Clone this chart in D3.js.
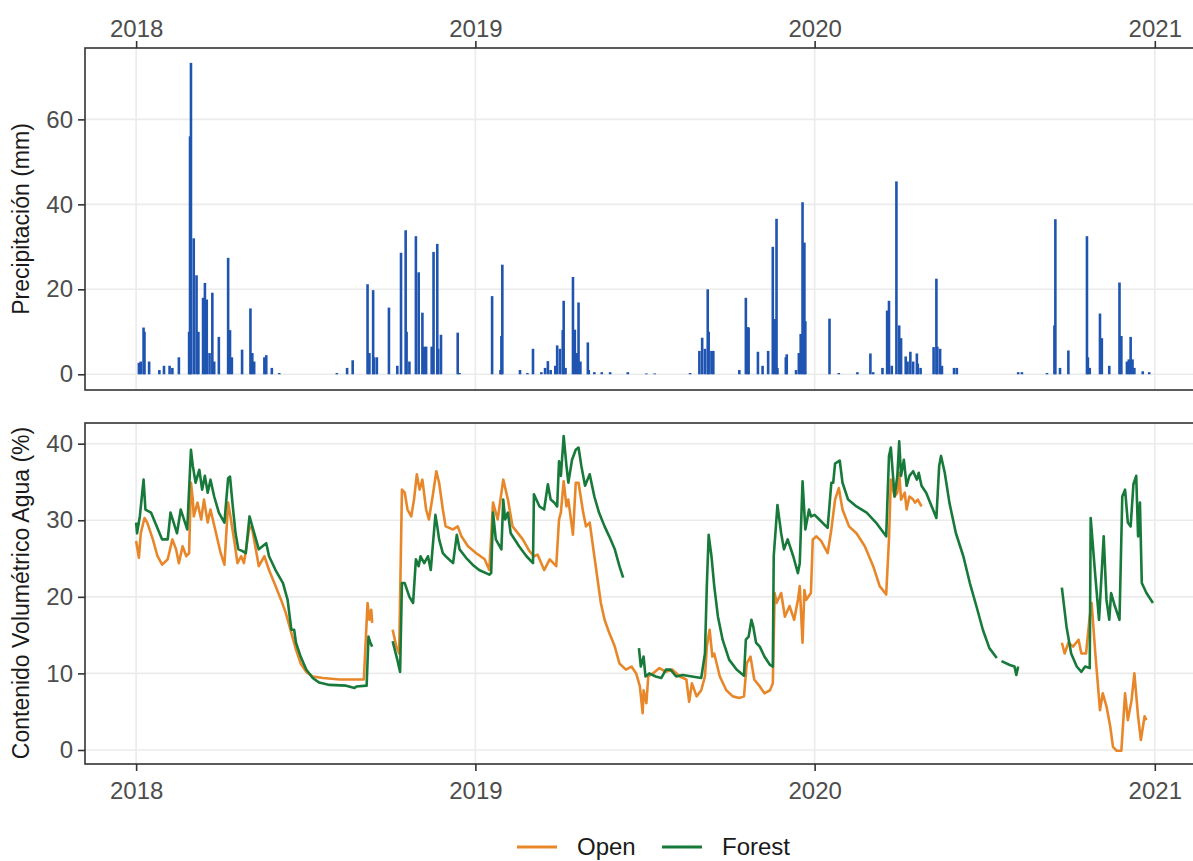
<!DOCTYPE html>
<html>
  <head>
    <meta charset="utf-8">
    <title>Precipitación y contenido de agua</title>
    <script src="https://cdn.jsdelivr.net/npm/d3@7"></script>
	<style>
		body { margin:0; background:#fff; }
		svg { font-family: "Liberation Sans", Arial, sans-serif; display:block; }
		.tick text { fill:#4d4d4d; font-size:24px; }
		.tick line { stroke:#333; stroke-width:1.6; }
		.titulo { fill:#1a1a1a; font-size:23px; }
	</style>
  </head>
  <body>
    <script>
	// dias desde 2018-01-01
	var lluviaDia = [3,5,8,9,14,25,30,36,39,46,57,58,59,62,65,67,72,74,76,79,82,84,89,99,101,103,114,123,125,127,138,140,146,154,
		216,227,233,249,251,255,256,259,272,281,285,290,291,294,301,304,308,310,312,318,320,324,325,328,346,348,
		383,392,393,394,413,421,427,436,440,443,446,451,453,456,459,460,462,470,472,474,476,478,486,487,493,501,510,529,549,558,
		596,606,609,612,615,616,619,621,649,656,658,659,669,674,680,685,687,689,690,699,700,710,713,715,717,719,720,
		746,756,776,790,793,803,808,810,813,818,821,823,828,830,833,836,840,841,844,858,861,862,865,867,880,883,
		949,953,980,988,989,994,1003,1023,1024,1026,1037,1039,1047,1058,1060,1066,1068,1070,1072,1074,1083,1090];
	var lluviaMm = [2.7,3,11,10,3,1,2,2,1.5,4,10,56,73.3,32,23.3,10,18,21.5,17.6,5,19.2,3,8.8,27.4,10.4,4,5.8,15.5,5,3,4,4.5,1.5,0.3,
		0.3,1.5,3.3,21.2,5,19.8,4,4,15.7,2,28.6,33.9,10,3,32.5,24,14.5,6.5,6.5,6.5,28.8,30.7,6,9.3,9.8,0.3,
		18.4,1,9,25.8,1,0.3,6,0.5,1.5,3.1,1,2,6.8,6,10.4,17.3,1.5,22.9,10.5,5,16.9,3,7.5,1,0.5,0.5,0.5,0.5,0.2,0.2,
		0.3,5.5,8.6,6,20,10,5.5,5.5,1,18,11.1,11,5.3,2,5.5,30,13,36.6,1.5,4,4.7,1,5,9.5,40.5,31,12.5,
		13.1,0.3,0.5,4.9,0.5,1.5,15,17.3,2,45.4,11.5,8.5,4.2,3,5.3,3,4.9,2.5,1.5,6.4,22.5,6.5,6,2,1.5,1.5,
		0.5,0.5,0.3,11.5,36.5,1.5,5.6,32.5,4,1.5,14.3,8.5,2,21.6,9,3,3.5,8.8,3.5,1.5,0.7,0.5];

	var openDia = [0,3,5,9,12,18,23,28,34,39,43,46,50,54,57,59,61,62,66,70,73,77,80,86,91,95,99,102,106,109,113,116,122,125,132,138,143,150,156,161,167,172,177,183,190,201,219,233,245,249,251,253,254,
		265,
		276,280,283,286,289,292,296,299,302,305,308,312,315,319,323,326,330,333,341,346,350,357,366,375,380,384,389,395,400,405,416,423,428,432,439,445,452,455,457,460,463,465,470,473,476,481,484,488,493,497,500,504,509,515,520,527,533,538,542,545,546,549,551,556,563,570,577,585,592,595,598,603,608,612,614,617,620,622,628,635,642,649,654,657,661,665,671,676,682,685,687,689,694,698,703,708,712,714,717,719,721,726,728,732,737,744,748,752,756,760,767,775,784,793,800,807,810,812,816,819,821,823,827,829,832,836,838,841,845,
		855,
		996,999,1003,1008,1014,1017,1022,1026,1028,1032,1037,1040,1044,1048,1051,1055,1060,1064,1067,1071,1074,1078,1081,1085,1087];
	var openVol = [27.3,25.1,28.3,30.3,29.7,27.5,25.3,24.2,24.9,27.5,26.2,24.4,26.6,25.3,25.7,34.9,32.7,30.5,32.3,30.1,32.7,29.7,31.4,28.3,25.7,24.2,32.3,30.1,27,24.4,25.3,24.4,29.2,28.8,24,25.3,23.5,21.4,19.6,17.9,15.3,13.1,11.3,10.2,9.6,9.4,9.2,9.2,9.2,19.2,17,18.3,16.6,
		null,
		15.7,13.5,12.6,34,33.6,31.4,30.5,32.7,36,34,35.3,31.4,30.1,33.1,36.4,34.9,31.4,29.2,28.8,29.2,27.9,26.6,25.7,24.9,23.5,32.3,30.1,35.3,32.7,29.2,27.5,26,25.3,25.5,23.5,24.9,24,30.1,31,35.1,31.8,32.7,28.1,34.9,34.9,31,29.2,29.7,25.3,21.8,19.2,17,15.3,13.5,11.3,10.5,10.9,10,8.3,4.8,7.8,6.1,9.6,10,10.7,10.2,10.5,9.6,9.2,6.3,8.7,7,7.8,9.6,13.5,15.7,12.2,12.6,9.6,7.8,7,6.8,7,11.3,12.2,9.2,8.3,7.4,7.8,8.7,20.5,19.2,20.5,17.4,18.8,17,19.6,21.4,14,20.9,19.6,20.5,27.5,27.9,27.3,25.7,28.8,32.7,34.2,31.4,29.2,28.3,26.6,24,21.4,20.3,27.5,35.3,33.1,33.6,36.2,32.7,33.6,31.4,33.1,32.7,32.3,32.7,31.8,
		null,
		14,12.6,14,13.5,14.4,12.6,12.6,17.4,19.2,12.6,5.2,7.4,5.7,3.1,0.4,-0.1,-0.1,7.4,3.9,6.5,10,4.4,1.3,4.4,3.9];

	var forestDia = [0,1,4,8,10,16,28,34,37,44,48,55,59,61,64,68,71,74,77,80,84,89,95,99,101,104,107,110,114,118,122,125,132,140,143,150,158,163,167,170,172,177,183,190,197,208,226,235,237,248,250,252,254,
		265,
		276,281,284,286,289,294,298,301,304,306,310,314,317,322,324,326,330,333,341,345,348,355,362,369,380,382,384,387,393,395,397,400,403,412,420,427,428,434,439,443,446,450,453,455,457,460,463,465,469,473,476,479,483,488,493,498,504,509,515,520,524,
		532,
		541,543,546,548,552,559,565,570,575,581,588,598,608,612,614,616,619,622,626,631,638,646,654,656,659,662,664,667,671,676,682,685,686,690,694,697,701,707,712,714,717,720,724,726,730,735,744,748,750,752,757,760,766,775,786,796,807,810,812,816,819,821,823,826,829,832,836,840,842,845,850,856,861,864,866,870,875,882,890,897,904,911,918,926,
		929,
		931,940,945,947,949,
		960,
		996,1001,1006,1012,1017,1021,1026,1027,1032,1036,1041,1044,1047,1049,1053,1058,1061,1064,1067,1070,1073,1076,1078,1080,1082,1087,1094];
	var forestVol = [29.7,28.3,30.5,35.3,31.4,31,27.5,27.5,31,28.3,31.4,28.8,39.2,37.1,34.9,36.6,34,35.8,33.6,35.3,33.1,31,29.7,35.5,35.7,31.8,28.3,26.2,26,25.7,30.5,29.2,26.2,27,25.3,23.5,21.8,19.6,15.7,15.7,14,12.2,10.5,9.4,8.8,8.5,8.4,8.1,8.3,8.4,14.8,14,13.5,
		null,
		14.2,11.8,10.2,21.8,21.8,20,19.2,24.9,24,25.3,24.4,25.3,23.5,30.7,29.2,27.5,25.7,25.3,24.4,28.1,26.2,25.1,24.2,23.5,22.9,23.1,31,27.5,26.2,32.7,30.1,31,28.3,26.6,25.3,24.4,33.4,31.8,31.4,34.7,32.7,32.3,31.8,37.7,35.8,41,37.1,34.9,37.9,39.2,39.5,37.1,34.5,36,33.1,31,29.2,27.9,26.2,24,22.5,
		null,
		13.3,10.9,12.2,9.6,10,9.6,9.4,10.5,10.5,9.6,9.8,9.6,9.4,12.6,21.4,28.1,25.3,21.4,17.4,14.4,11.8,10.5,9.7,14.4,14.8,17,16.1,14,13.5,12.2,11.1,10.9,25.3,32,28.3,26.2,27.5,25.3,23.1,24.4,35.1,28.8,31.4,30.5,30.7,30.1,29,34.9,34.9,37.4,37.8,34.9,32.7,31.8,31,29.7,27.9,38.4,39.5,33.1,35.8,40.3,35.8,37.9,34.5,35.8,36.4,35.3,36.2,34.5,33.6,31.8,30.3,37.1,38.4,36.2,32.3,28.3,25.3,21.8,18.8,15.7,13.3,12,
		null,
		11.6,11.1,10.9,9.8,10.9,
		null,
		21.2,16.1,12.6,10.9,10.2,10.9,10.7,30.3,22.7,17,27.9,19.6,17,20.5,18.8,17,33.1,34,29.7,29.2,34.7,35.8,27.9,32.3,21.8,20.5,19.2];

	var anios = [2018, 2019, 2020, 2021];
	var ticksPrec = [0, 20, 40, 60];
	var ticksVol = [0, 10, 20, 30, 40];
	var series = ["Open", "Forest"];
	var colores = ["#E8872A", "#177A3A"];

	var width = 1193, height = 861;
	var left = 85, right = 1205;
	var svg = d3.select("body").append("svg")
		.attr("width", width)
		.attr("height", height);

	var inicio = new Date(Date.UTC(2018, 0, 1));
	function fecha(dia) { return d3.utcDay.offset(inicio, dia); }
	var fechasAnio = anios.map(function(a){ return new Date(Date.UTC(a, 0, 1)); });

	var x = d3.scaleUtc()
		.domain([fecha(-55), fecha(1150)])
		.range([left, right]);

	var yPrec = d3.scaleLinear().domain([-3.7, 76.8]).range([390, 48]);
	var yVol = d3.scaleLinear().domain([-1.83, 42.7]).range([764, 423]);

	function panel(y, ticks, top, bottom) {
		var g = svg.append("g");
		g.selectAll(".gh").data(ticks).enter().append("line")
			.attr("x1", left).attr("x2", right)
			.attr("y1", function(d){ return y(d); }).attr("y2", function(d){ return y(d); })
			.attr("stroke", "#ebebeb").attr("stroke-width", 1.6);
		g.selectAll(".gv").data(fechasAnio).enter().append("line")
			.attr("x1", function(d){ return x(d); }).attr("x2", function(d){ return x(d); })
			.attr("y1", top).attr("y2", bottom)
			.attr("stroke", "#ebebeb").attr("stroke-width", 1.6);
		return g;
	}

	function ejeY(y, ticks) {
		var g = svg.append("g")
			.attr("transform", "translate(" + left + ",0)")
			.call(d3.axisLeft(y).tickValues(ticks).tickSize(7).tickPadding(5));
		g.select(".domain").remove();
	}

	function marco(top, bottom) {
		svg.append("rect")
			.attr("x", left).attr("y", top)
			.attr("width", right - left).attr("height", bottom - top)
			.attr("fill", "none").attr("stroke", "#333").attr("stroke-width", 1.6);
	}

	// panel superior: precipitacion
	panel(yPrec, ticksPrec, 48, 390);
	svg.append("g").selectAll("rect").data(lluviaDia).enter().append("rect")
		.attr("x", function(d){ return x(fecha(d)) - 1.3; })
		.attr("width", 2.6)
		.attr("y", function(d, i){ return yPrec(lluviaMm[i]); })
		.attr("height", function(d, i){ return yPrec(0) - yPrec(lluviaMm[i]); })
		.attr("fill", "#1F55B0");
	marco(48, 390);
	ejeY(yPrec, ticksPrec);
	var ejeTop = svg.append("g")
		.attr("transform", "translate(0,48)")
		.call(d3.axisTop(x).tickValues(fechasAnio).tickFormat(d3.utcFormat("%Y")).tickSize(7).tickPadding(4));
	ejeTop.select(".domain").remove();

	// panel inferior: contenido volumetrico
	panel(yVol, ticksVol, 423, 764);
	var linea = d3.line()
		.defined(function(d){ return d[1] != null; })
		.x(function(d){ return x(fecha(d[0])); })
		.y(function(d){ return yVol(d[1]); });
	var datos = [d3.zip(openDia, openVol), d3.zip(forestDia, forestVol)];
	svg.append("g").selectAll("path").data(datos).enter().append("path")
		.attr("d", linea)
		.attr("fill", "none")
		.attr("stroke", function(d, i){ return colores[i]; })
		.attr("stroke-width", 2.6)
		.attr("stroke-linejoin", "round");
	marco(423, 764);
	ejeY(yVol, ticksVol);
	var ejeBot = svg.append("g")
		.attr("transform", "translate(0,764)")
		.call(d3.axisBottom(x).tickValues(fechasAnio).tickFormat(d3.utcFormat("%Y")).tickSize(7).tickPadding(6));
	ejeBot.select(".domain").remove();
	ejeBot.selectAll("text").attr("dy", "0.9em");

	// titulos
	svg.append("text").attr("class", "titulo")
		.attr("transform", "translate(29,219) rotate(-90)")
		.attr("text-anchor", "middle")
		.text("Precipitación (mm)");
	svg.append("text").attr("class", "titulo")
		.attr("transform", "translate(29,593) rotate(-90)")
		.attr("text-anchor", "middle")
		.text("Contenido Volumétrico Agua (%)");

	// leyenda
	var leyX = [517, 662];
	var ley = svg.append("g").selectAll("g").data(series).enter().append("g")
		.attr("transform", function(d, i){ return "translate(" + leyX[i] + ",847)"; });
	ley.append("line")
		.attr("x1", 0).attr("x2", 40)
		.attr("stroke", function(d, i){ return colores[i]; })
		.attr("stroke-width", 2.8);
	ley.append("text")
		.attr("x", 60).attr("y", 8)
		.attr("fill", "#1a1a1a")
		.style("font-size", "24px")
		.text(function(d){ return d; });
    </script>
  </body>
</html>
